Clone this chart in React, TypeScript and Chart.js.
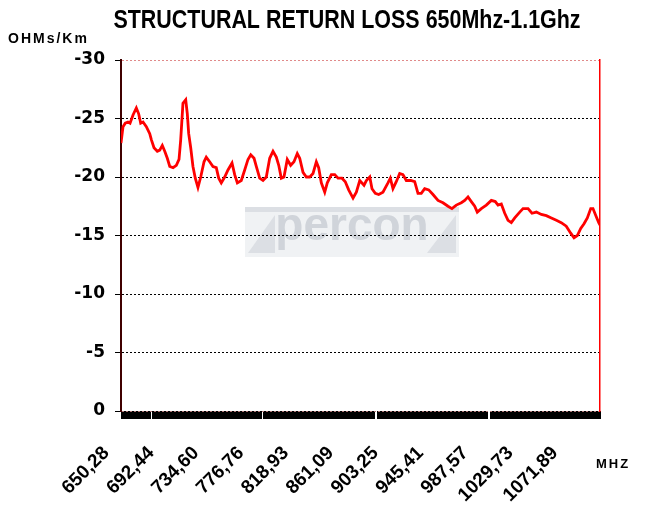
import React, { useEffect, useRef } from 'react';
import { Chart, registerables } from 'chart.js';

Chart.register(...registerables);

// ---- data ----
const FREQ_MHZ = [
  650.0, 651.9, 654.0, 656.6, 658.5, 661.3, 664.4, 666.6, 668.5, 670.7,
  673.8, 677.0, 678.5, 681.0, 684.1, 686.4, 688.8, 691.1, 693.5, 695.8,
  698.9, 702.0, 704.5, 706.1, 708.2, 710.8, 712.3, 713.6, 715.5, 717.6,
  719.8, 722.3, 724.9, 728.0, 730.1, 733.3, 736.4, 739.5, 741.8, 744.2,
  747.4, 750.5, 754.3, 756.8, 759.3, 763.0, 766.2, 769.3, 771.9, 775.0,
  777.1, 780.3, 783.4, 786.5, 789.7, 792.8, 795.9, 798.2, 800.6, 803.1,
  806.2, 809.4, 812.5, 815.6, 817.9, 821.0, 824.1, 827.3, 830.4, 833.5,
  835.7, 838.2, 841.4, 843.8, 847.6, 850.8, 853.9, 857.6, 860.7, 863.9,
  868.0, 871.1, 874.3, 878.3, 880.5, 883.7, 885.8, 888.9, 892.1, 896.1,
  900.8, 903.0, 905.5, 908.6, 911.8, 914.9, 918.0, 922.2, 925.9, 929.0,
  932.1, 935.3, 939.1, 943.1, 947.8, 952.5, 957.2, 960.9, 965.0, 969.7,
  972.9, 976.0, 979.1, 982.3, 984.7, 988.5, 993.2, 997.9, 1001.6, 1004.2,
  1007.3, 1010.5, 1013.6, 1016.7, 1019.9, 1024.6, 1027.7, 1032.4, 1036.1, 1040.2,
  1044.9, 1049.6, 1054.3, 1059.0, 1063.6, 1068.3, 1072.5, 1075.6, 1078.7, 1081.9,
  1085.0, 1088.1, 1091.3, 1093.4, 1096.5, 1098.8, 1100.0,
];

const RETURN_LOSS = [
  -22.9, -24.3, -24.6, -24.7, -24.6, -25.3, -25.9, -25.4, -24.6, -24.7,
  -24.3, -23.7, -23.2, -22.5, -22.2, -22.3, -22.7, -22.2, -21.6, -20.9,
  -20.8, -21.0, -21.5, -23.2, -26.3, -26.6, -25.4, -23.7, -22.5, -20.9,
  -19.9, -19.1, -20.0, -21.3, -21.7, -21.3, -20.9, -20.8, -19.9, -19.5,
  -20.0, -20.6, -21.2, -20.2, -19.5, -19.7, -20.6, -21.5, -21.9, -21.6,
  -20.9, -19.9, -19.7, -20.0, -21.6, -22.2, -21.7, -21.0, -19.9, -20.0,
  -21.5, -21.0, -21.3, -22.0, -21.6, -20.4, -20.0, -20.0, -20.3, -21.3,
  -20.8, -19.5, -18.7, -19.5, -20.2, -20.2, -19.9, -19.9, -19.6, -18.9,
  -18.2, -18.7, -19.7, -19.3, -19.7, -20.0, -19.0, -18.6, -18.5, -18.7,
  -19.5, -19.9, -19.0, -19.6, -20.3, -20.2, -19.7, -19.7, -19.6, -18.6,
  -18.6, -19.0, -18.9, -18.5, -18.0, -17.8, -17.5, -17.3, -17.6, -17.8,
  -18.0, -18.3, -17.9, -17.5, -17.0, -17.3, -17.6, -18.0, -17.9, -17.6,
  -17.7, -16.9, -16.3, -16.1, -16.5, -17.0, -17.3, -17.3, -16.9, -17.0,
  -16.8, -16.7, -16.5, -16.3, -16.1, -15.8, -15.2, -14.8, -15.0, -15.6,
  -16.0, -16.5, -17.3, -17.3, -16.6, -16.1, -15.9,
];

const TICK_MHZ = [650.28, 692.44, 734.6, 776.76, 818.93, 861.09, 903.25, 945.41, 987.57, 1029.73, 1071.89];
const TICK_LABELS = ['650,28', '692,44', '734,60', '776,76', '818,93', '861,09', '903,25', '945,41', '987,57', '1029,73', '1071,89'];
const BAND_GAPS_MHZ = [678.2, 783.4, 889.6, 995.3];

const X_MIN = 650;
const X_MAX = 1100;
const Y_MIN = -30;
const Y_MAX = 0;
const Y_STEP = 5;

const TITLE = 'STRUCTURAL RETURN LOSS 650Mhz-1.1Ghz';
const Y_UNIT = 'OHMs/Km';
const X_UNIT = 'MHZ';
const WATERMARK = 'percon';

const BAND_STEPS = 958;

const watermarkPlugin = {
  id: 'watermark',
  beforeDraw(chart: any) {
    const { ctx, chartArea: ca } = chart;
    const x0 = ca.left + 124;
    const y0 = ca.top + 147;
    const w = 214;
    const h = 50;
    ctx.save();
    ctx.fillStyle = '#f0f2f4';
    ctx.fillRect(x0, y0, w, h);
    ctx.fillStyle = '#dcdfe4';
    ctx.fillRect(x0, y0, w, 5);
    ctx.beginPath();
    ctx.moveTo(x0 + 3, y0 + h - 4);
    ctx.lineTo(x0 + 30, y0 + 8);
    ctx.lineTo(x0 + 30, y0 + h - 4);
    ctx.closePath();
    ctx.fill();
    ctx.beginPath();
    ctx.moveTo(x0 + w - 32, y0 + h - 4);
    ctx.lineTo(x0 + w - 3, y0 + 8);
    ctx.lineTo(x0 + w - 3, y0 + h - 4);
    ctx.closePath();
    ctx.fill();
    ctx.fillStyle = '#d0d4da';
    ctx.font = 'bold 46px "Liberation Sans", Arial, sans-serif';
    ctx.textAlign = 'center';
    ctx.textBaseline = 'alphabetic';
    ctx.fillText(WATERMARK, x0 + w / 2, y0 + 33);
    ctx.restore();
  },
};

const captionPlugin = {
  id: 'captions',
  afterDraw(chart: any) {
    const { ctx } = chart;
    ctx.save();
    ctx.fillStyle = '#000';
    ctx.textBaseline = 'alphabetic';
    ctx.textAlign = 'center';
    ctx.font = 'bold 26px "Liberation Sans", Arial, sans-serif';
    ctx.save();
    ctx.translate(347, 28);
    ctx.scale(0.825, 1);
    ctx.fillText(TITLE, 0, 0);
    ctx.restore();
    ctx.textAlign = 'left';
    ctx.letterSpacing = '2px';
    ctx.font = 'bold 14px "Liberation Sans", Arial, sans-serif';
    ctx.fillText(Y_UNIT, 8, 43);
    ctx.font = 'bold 13px "Liberation Sans", Arial, sans-serif';
    ctx.fillText(X_UNIT, 596, 468);
    ctx.restore();
  },
};

export default function App() {
  const canvasRef = useRef<HTMLCanvasElement | null>(null);

  useEffect(() => {
    const canvas = canvasRef.current;
    if (!canvas) return;
    const points = FREQ_MHZ.map((f, i) => ({ x: f, y: RETURN_LOSS[i] }));

    const chart = new Chart(canvas, {
      type: 'line',
      data: {
        datasets: [
          {
            data: points,
            borderColor: '#ff0000',
            borderWidth: 2.8,
            pointRadius: 0,
            tension: 0,
            fill: false,
          },
        ],
      },
      options: {
        responsive: false,
        animation: false,
        layout: { padding: { left: 0, right: 46, top: 60, bottom: 0 } },
        plugins: {
          legend: { display: false },
          tooltip: { enabled: false },
          title: { display: false },
        },
        scales: {
          x: {
            type: 'linear',
            min: X_MIN,
            max: X_MAX,
            afterBuildTicks: (scale: any) => {
              const ticks: { value: number }[] = [];
              const span = X_MAX - X_MIN;
              const pxSpan = BAND_STEPS / 2;
              for (let k = 0; k <= BAND_STEPS; k++) {
                const v = X_MIN + (k * span) / BAND_STEPS;
                const nearGap = BAND_GAPS_MHZ.some(
                  (g) => Math.abs(((g - X_MIN) / span) * pxSpan - k / 2) < 1.0
                );
                if (!nearGap) ticks.push({ value: v });
              }
              TICK_MHZ.forEach((v) => ticks.push({ value: v }));
              ticks.sort((a, b) => a.value - b.value);
              scale.ticks = ticks;
            },
            afterFit: (scale: any) => {
              scale.height = 107;
            },
            ticks: {
              autoSkip: false,
              minRotation: 45,
              maxRotation: 45,
              labelOffset: -15,
              padding: 23,
              color: '#000',
              font: { family: '"Liberation Sans", Arial, sans-serif', weight: 'bold', size: 19 },
              callback: (value: any) => {
                const i = TICK_MHZ.findIndex((t) => Math.abs(t - Number(value)) < 1e-6);
                return i >= 0 ? TICK_LABELS[i] : '';
              },
            },
            grid: {
              drawOnChartArea: false,
              drawTicks: true,
              tickLength: 8,
              tickColor: '#000',
              tickWidth: 1,
            },
            border: { display: false },
          },
          y: {
            type: 'linear',
            position: 'left',
            min: Y_MIN,
            max: Y_MAX,
            reverse: true,
            afterFit: (scale: any) => {
              scale.width = 121;
            },
            ticks: {
              stepSize: Y_STEP,
              padding: 10,
              color: '#000',
              font: { family: '"DejaVu Sans", sans-serif', weight: 'bold', size: 17 },
            },
            grid: {
              color: (ctx: any) => {
                const v = ctx.tick ? ctx.tick.value : null;
                if (v === Y_MIN) return '#e08a8a';
                if (v === Y_MAX) return '#b07878';
                return '#000';
              },
              lineWidth: 1,
              tickLength: 6,
              tickColor: '#000',
              tickWidth: 1,
            },
            border: { display: true, color: '#400000', width: 2, dash: [2, 2] },
          },
          y2: {
            type: 'linear',
            position: 'right',
            min: Y_MIN,
            max: Y_MAX,
            reverse: true,
            afterFit: (scale: any) => {
              scale.width = 0;
            },
            ticks: { display: false },
            grid: { display: false, drawTicks: false },
            border: { display: true, color: '#ff0000', width: 1.5 },
          },
        },
      },
      plugins: [watermarkPlugin, captionPlugin],
    } as any);

    return () => chart.destroy();
  }, []);

  return (
    <div style={{ position: 'absolute', left: 0, top: 0, width: 646, height: 518, background: '#fff' }}>
      <canvas ref={canvasRef} width={646} height={518} style={{ display: 'block' }} />
    </div>
  );
}
